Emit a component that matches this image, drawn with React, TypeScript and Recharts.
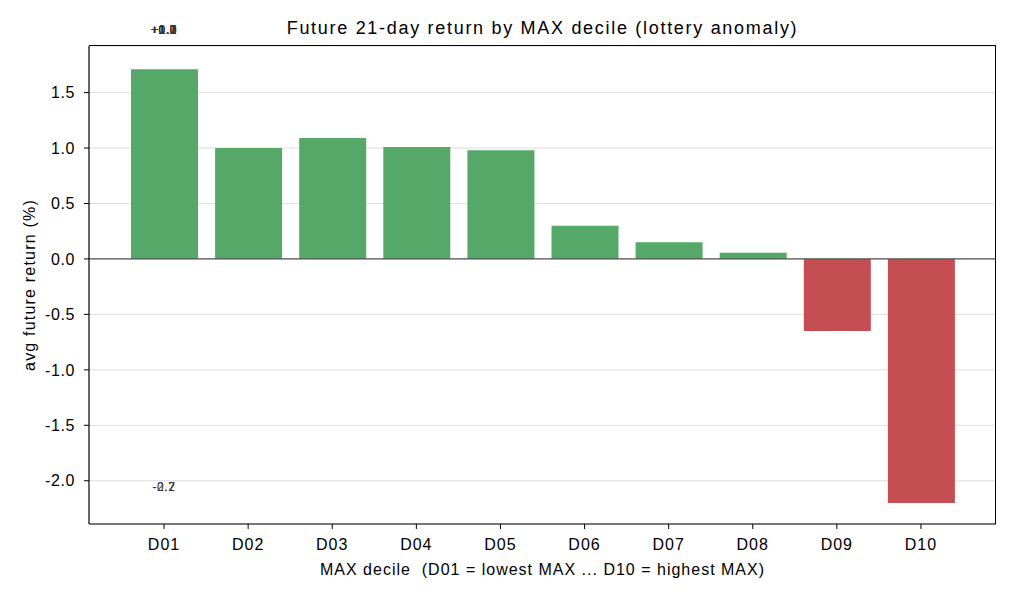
import { Bar, BarChart, CartesianGrid, Cell, ReferenceDot, ReferenceLine, XAxis, YAxis } from "recharts";

const deciles = ["D01", "D02", "D03", "D04", "D05", "D06", "D07", "D08", "D09", "D10"];
const avgReturn = [1.71, 1.0, 1.09, 1.01, 0.98, 0.3, 0.15, 0.055, -0.65, -2.2];
const yTicks = [-2.0, -1.5, -1.0, -0.5, 0.0, 0.5, 1.0, 1.5];
// the value labels in the original all landed on the first category
const labelTopY = 2.07;
const labelBottomY = -2.05;

const data = deciles.map((d, i) => ({ decile: d, value: avgReturn[i] }));

const font = "'Liberation Sans', Arial, sans-serif";
const yDomain = [-2.39, 1.92];

const App = () => (
    <div style={{ position: "absolute", left: 0, top: 0, width: 1014, height: 598, background: "#fff", fontFamily: font }}>
        <div style={{ position: "absolute", left: 89, width: 907, top: 17, textAlign: "center", fontSize: 18, lineHeight: "22px", letterSpacing: 1.7, color: "#000" }}>
            Future 21-day return by MAX decile (lottery anomaly)
        </div>
        <BarChart width={1014} height={598} data={data} margin={{ top: 46, right: 18, bottom: 0, left: 0 }}>
            <CartesianGrid vertical={false} stroke="#dddddd" />
            <XAxis
                dataKey="decile"
                height={74}
                padding={{ left: 33, right: 33 }}
                tickSize={5}
                tickMargin={10}
                tickLine={{ stroke: "#000" }}
                axisLine={{ stroke: "#000", strokeWidth: 1.2 }}
                tick={{ fill: "#000", fontSize: 16, fontFamily: font, letterSpacing: 1 }}
                label={{ value: "MAX decile \u00a0(D01 = lowest MAX ... D10 = highest MAX)", position: "insideBottom", offset: 23, fill: "#000", fontSize: 16, fontFamily: font, letterSpacing: 1 }}
            />
            <YAxis
                width={89}
                domain={yDomain}
                ticks={yTicks}
                tickFormatter={(v: number) => v.toFixed(1)}
                tickSize={5}
                tickMargin={9}
                tickLine={{ stroke: "#000" }}
                axisLine={{ stroke: "#000", strokeWidth: 1.2 }}
                tick={{ fill: "#000", fontSize: 16, fontFamily: font, letterSpacing: 0.6 }}
                label={{
                    content: ({ viewBox }: any) => (
                        <text x={viewBox.x + 35} y={viewBox.y + viewBox.height / 2} transform={`rotate(-90, ${viewBox.x + 35}, ${viewBox.y + viewBox.height / 2})`} textAnchor="middle" fontSize={16} letterSpacing={1.2} fontFamily={font} fill="#000">
                            avg future return (%)
                        </text>
                    ),
                }}
            />
            <ReferenceLine y={0} stroke="#555555" strokeWidth={1.3} />
            <Bar dataKey="value" barSize={67} isAnimationActive={false}>
                {data.map((d) => (
                    <Cell key={d.decile} fill={d.value >= 0 ? "#55a868" : "#c44e52"} />
                ))}
            </Bar>
            {avgReturn.map((v, i) => (
                <ReferenceDot
                    key={i}
                    x={deciles[0]}
                    y={v >= 0 ? labelTopY : labelBottomY}
                    r={0}
                    stroke="none"
                    ifOverflow="visible"
                    label={{ value: (v >= 0 ? "+" : "") + v.toFixed(1), position: "center", fill: "#333", fontSize: 12, letterSpacing: 0.6, fontFamily: font }}
                />
            ))}
        </BarChart>
        <div style={{ position: "absolute", left: 89, top: 45, width: 907, height: 479, borderTop: "1.2px solid #000", borderRight: "1.2px solid #000", boxSizing: "border-box", pointerEvents: "none" }} />
    </div>
);

export default App;
